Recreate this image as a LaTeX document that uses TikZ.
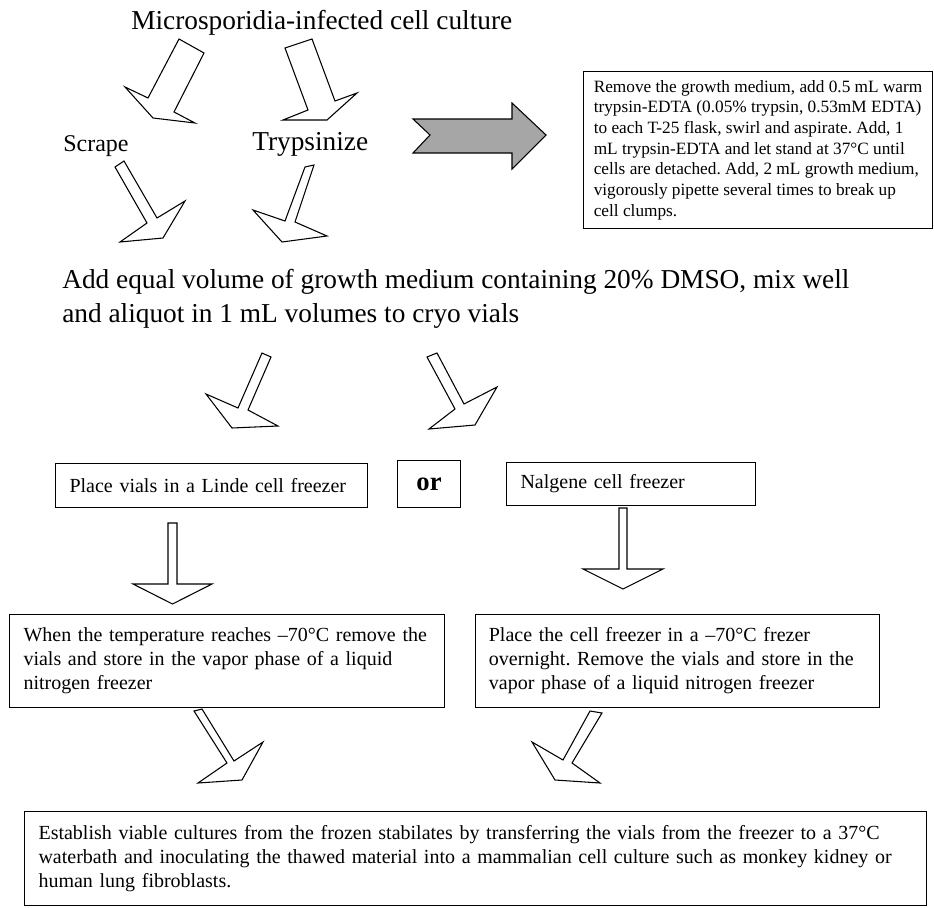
\documentclass[tikz,border=0pt]{standalone}
\usepackage{fontspec}
\setmainfont{Liberation Serif}
\frenchspacing
\begin{document}
\begin{tikzpicture}
        [x=0.75pt, y=-0.75pt,
         box/.style={draw, line width=0.8pt, anchor=north west, align=left,
                     inner xsep=10.5pt, font=\fontsize{15}{18}\selectfont},
         hollow arrow/.style={draw, line width=0.8pt, fill=white, line join=miter},
         grey arrow/.style={draw, line width=0.8pt, fill=gray!70, line join=miter}]
        \useasboundingbox (0,0) rectangle (934,907);
        %titolo e metodi
            \node (culture) at (131,29)[anchor=base west, inner sep=0pt,
                font=\fontsize{20.5}{24}\selectfont]{Microsporidia-infected cell culture};
            \node (scrape) at (63,151)[anchor=base west, inner sep=0pt,
                font=\fontsize{18}{21}\selectfont]{Scrape};
            \node (trypsinize) at (252,150)[anchor=base west, inner sep=0pt,
                font=\fontsize{20.5}{24}\selectfont]{Trypsinize};
        %frecce in alto
            \draw[hollow arrow] (179,39)--(204,53)--(174,112)--(195,123)--(153,118)--(125,87)--(148,98)--cycle;
            \draw[hollow arrow] (285,48)--(312,39)--(335,101)--(357,93)--(327,120)--(283,120)--(308,110)--cycle;
            \draw[hollow arrow] (115,167)--(124,161)--(157,218)--(185,201)--(163,238)--(120,242)--(147,223)--cycle;
            \draw[hollow arrow] (305,167)--(314,165)--(295,222)--(327,236)--(282,242)--(253,210)--(285,221)--cycle;
            \draw[grey arrow] (413,119)--(430,135)--(413,153)--(512,153)--(512,169)--(546,135)--(512,103)--(512,119)--cycle;
        %riquadro tripsina
            \node[box, inner xsep=0pt, minimum width=261.75pt, minimum height=117.75pt,
                  font=\fontsize{12.95}{15.5}\selectfont] (trypsinbox) at (583,71)
                {Remove the growth medium, add 0.5 mL warm\\
                 trypsin-EDTA (0.05\% trypsin, 0.53mM EDTA)\\
                 to each T-25 flask, swirl and aspirate. Add, 1\\
                 mL trypsin-EDTA and let stand at 37°C until\\
                 cells are detached. Add, 2 mL growth medium,\\
                 vigorously pipette several times to break up\\
                 cell clumps.};
        %DMSO
            \node (dmso) at (62,269)[anchor=north west, inner sep=0pt, align=left,
                font=\fontsize{20.5}{25.5}\selectfont]
                {Add equal volume of growth medium containing 20\% DMSO, mix well\\
                 and aliquot in 1 mL volumes to cryo vials};
            \draw[hollow arrow] (262,353)--(271,357)--(248,410)--(278,426)--(232,428)--(206,394)--(238,408)--cycle;
            \draw[hollow arrow] (427,357)--(437,353)--(464,404)--(497,387)--(475,425)--(429,429)--(455,409)--cycle;
        %congelatori
            \node[box, text width=213pt, minimum height=33pt] (linde) at (55,463)
                {Place vials in a Linde cell freezer};
            \node[box, align=center, inner xsep=0pt, minimum width=47.25pt, minimum height=35.25pt,
                  font=\fontsize{20}{24}\selectfont\bfseries] (orbox) at (397,460) {or};
            \node[box, text width=165.75pt, minimum height=32.25pt] (nalgene) at (506,462)
                {Nalgene cell freezer};
            \draw[hollow arrow] (168,523)--(177,523)--(177,584)--(212,584)--(172.5,604)--(133,584)--(168,584)--cycle;
            \draw[hollow arrow] (619,508)--(627,508)--(627,569)--(663,569)--(623,589)--(583,569)--(619,569)--cycle;
        %conservazione in azoto
            \node[box, text width=305.25pt, minimum height=69.75pt] (lindestore) at (9,614)
                {When the temperature reaches --70°C remove the\\
                 vials and store in the vapor phase of a liquid\\
                 nitrogen freezer};
            \node[box, inner xsep=10pt, text width=283pt, minimum height=69.75pt] (nalgenestore) at (475,614)
                {Place the cell freezer in a --70°C frezer\\
                 overnight. Remove the vials and store in the\\
                 vapor phase of a liquid nitrogen freezer};
            \draw[hollow arrow] (194,711)--(202,709)--(234,761)--(263,742)--(242,780)--(198,783)--(227,763)--cycle;
            \draw[hollow arrow] (590,711)--(602,713)--(572,763)--(600,783)--(555,780)--(532,742)--(563,760)--cycle;
        %colture
            \node[box, text width=655.5pt, minimum height=70.5pt] (establish) at (24,811)
                {Establish viable cultures from the frozen stabilates by transferring the vials from the freezer to a 37°C\\
                 waterbath and inoculating the thawed material into a mammalian cell culture such as monkey kidney or\\
                 human lung fibroblasts.};
    \end{tikzpicture}
\end{document}
